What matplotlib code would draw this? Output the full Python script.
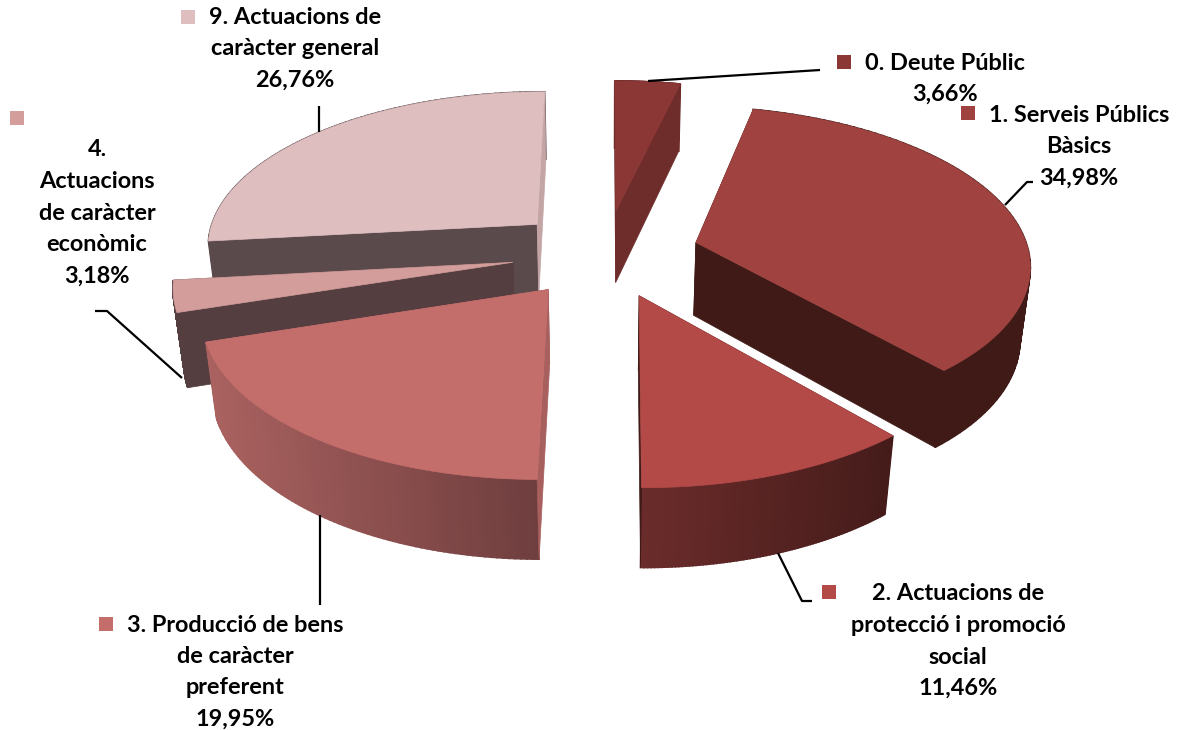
import numpy as np
import matplotlib
matplotlib.use("Agg")
import matplotlib.pyplot as plt
from matplotlib.colors import to_rgb
from matplotlib.patches import Polygon, Rectangle

# data
labels = [
    "0. Deute Públic\n3,66%",
    "1. Serveis Públics\nBàsics\n34,98%",
    "2. Actuacions de\nprotecció i promoció\nsocial\n11,46%",
    "3. Producció de bens\nde caràcter\npreferent\n19,95%",
    "4.\nActuacions\nde caràcter\neconòmic\n3,18%",
    "9. Actuacions de\ncaràcter general\n26,76%",
]
values = [3.66, 34.98, 11.46, 19.95, 3.18, 26.76]

# colours of each slice
top_colors = ["#8a3736", "#a04340", "#b34a48", "#c46e6c", "#d29d9b", "#dfbec0"]
start_colors = ["#6e2c2a", "#3f1a17", "#3f1a17", "#a8605e", "#553e40", "#5b4a4c"]
end_colors = ["#6e2c2a", "#3f1a17", "#3f1a17", "#a8605e", "#553e40", "#c4a5a6"]
wall_left = ["#6e2c2a", "#3f1a17", "#6b2c2b", "#aa6260", "#553e40", "#5b4a4c"]
wall_right = ["#6e2c2a", "#3f1a17", "#451c1a", "#6f3e3e", "#553e40", "#5b4a4c"]

# projection of the 3d pie
CX, CY = 605.5, 253
A, B, H = 333, 156, 75
P, Q = 0.126, 0.025
EXPLODE = 0.282


def project(X, Y, Z):
    w = 1 + P * Y - Q * Z
    return np.column_stack([CX + A * X / w, CY - (B * Y + H * Z) / w])


fig = plt.figure(figsize=(11.78, 7.30), dpi=100)
ax = fig.add_axes([0, 0, 1, 1])
ax.set_xlim(0, 1178)
ax.set_ylim(730, 0)
ax.axis("off")

fracs = np.array(values) / sum(values)
ends = np.cumsum(fracs) * 2 * np.pi
starts = ends - fracs * 2 * np.pi


def face(pts, color, z, lw=0.5):
    ax.add_patch(Polygon(pts, closed=True, fc=color, ec=color, lw=lw, zorder=z))


# back to front
order = [5, 0, 1, 4, 3, 2]
for z, i in enumerate(order):
    mid = (starts[i] + ends[i]) / 2
    ox, oy = EXPLODE * np.sin(mid), EXPLODE * np.cos(mid)
    t = np.linspace(starts[i], ends[i], 80)
    X = ox + np.sin(t)
    Y = oy + np.cos(t)
    top = project(X, Y, 0 * t)
    bot = project(X, Y, 0 * t - 1)
    apex_top = project(np.array([ox]), np.array([oy]), np.array([0.0]))
    apex_bot = project(np.array([ox]), np.array([oy]), np.array([-1.0]))
    base = z * 10
    # cut faces turned to the viewer go over the wall, the others under it
    start_front = np.sin(starts[i]) < 0
    end_front = np.sin(ends[i]) > -0.01
    face(np.vstack([apex_top, top[0], bot[0], apex_bot]), start_colors[i], base + (2 if start_front else 0))
    face(np.vstack([apex_top, top[-1], bot[-1], apex_bot]), end_colors[i], base + (2 if end_front else 0))
    # outer wall, colour runs left to right
    c0, c1 = np.array(to_rgb(wall_left[i])), np.array(to_rgb(wall_right[i]))
    xmin, xmax = top[:, 0].min(), top[:, 0].max()
    for k in range(len(t) - 1):
        s = (top[k, 0] - xmin) / (xmax - xmin)
        face(np.vstack([top[k], top[k + 1], bot[k + 1], bot[k]]), c0 + (c1 - c0) * s, base + 1, lw=1.2)
    # top face
    face(np.vstack([apex_top, top]), top_colors[i], base + 3)

# leader lines
leaders = [
    ([648, 820], [81, 70]),
    ([1005, 1027, 1033], [205, 182, 182]),
    ([778, 802, 812], [553, 601, 601]),
    ([320, 320], [515, 605]),
    ([95, 107, 182], [311, 311, 378]),
    ([319, 319], [132, 106]),
]
for lx, ly in leaders:
    ax.plot(lx, ly, color="black", lw=1.6, zorder=100, solid_capstyle="butt")

# label positions: centre of text, first line y, legend key
text_x = [945, 1079, 958, 235, 97, 295]
text_y = [63, 115, 594, 625, 150, 17]
line_h = 31.5
key_x = [844, 968, 829, 106, 17, 188]
key_y = [62, 113, 592, 624, 118, 17]

for i, lab in enumerate(labels):
    for n, line in enumerate(lab.split("\n")):
        ax.text(text_x[i], text_y[i] + n * line_h, line, ha="center", va="center",
                fontsize=16.9, family="Lato", fontweight="bold", color="black", zorder=110)
    ax.add_patch(Rectangle((key_x[i] - 7, key_y[i] - 7), 14, 14, fc=top_colors[i], ec="none", zorder=110))

fig.savefig("out.png", dpi=100)
